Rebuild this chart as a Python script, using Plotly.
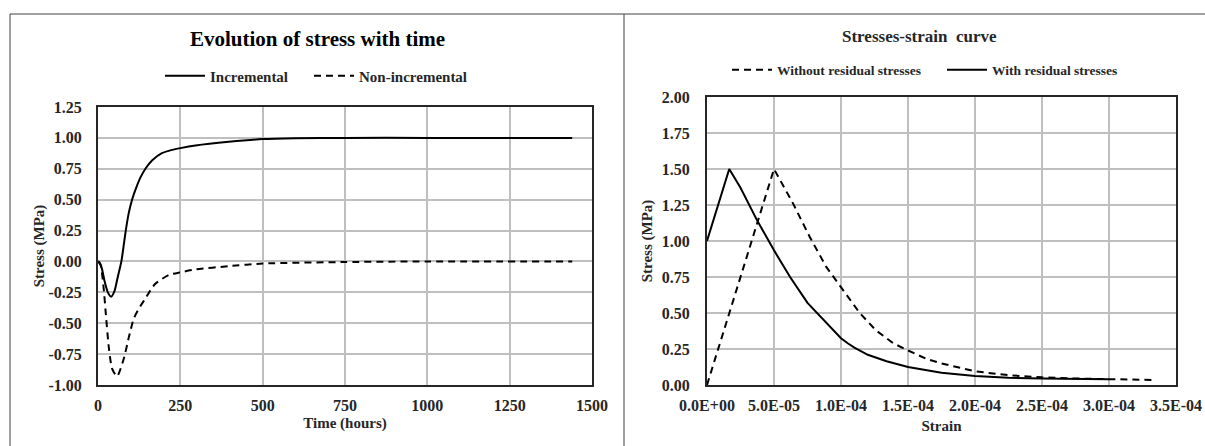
import plotly.graph_objects as go

W, H = 1205, 446

# ---------------- data ----------------
time_inc = [0, 5, 12, 20, 30, 40, 50, 58, 65, 71, 77, 83, 93, 103, 113, 129, 144, 164, 194, 225, 250, 296, 397, 500, 600, 750, 1000, 1250, 1440]
stress_inc = [0, -0.01, -0.06, -0.16, -0.25, -0.285, -0.24, -0.15, -0.07, 0.0, 0.11, 0.226, 0.387, 0.495, 0.575, 0.68, 0.75, 0.817, 0.876, 0.903, 0.917, 0.938, 0.968, 0.99, 0.997, 1.0, 1.0, 1.0, 1.0]

time_non = [0, 8, 18, 23, 33, 43, 58, 78, 94, 109, 129, 144, 160, 174, 215, 250, 296, 397, 500, 750, 1000, 1440]
stress_non = [0, -0.03, -0.24, -0.40, -0.70, -0.87, -0.93, -0.79, -0.61, -0.46, -0.36, -0.30, -0.23, -0.18, -0.11, -0.088, -0.065, -0.038, -0.017, -0.005, 0.0, 0.0]

strain_without = [0, 5.0e-5, 6.44e-5, 7.67e-5, 8.9e-5, 1.0e-4, 1.14e-4, 1.26e-4, 1.39e-4, 1.5e-4, 1.64e-4, 1.75e-4, 1.88e-4, 2.0e-4, 2.25e-4, 2.5e-4, 2.75e-4, 3.0e-4, 3.33e-4]
stress_without = [0, 1.50, 1.257, 1.028, 0.82, 0.68, 0.50, 0.38, 0.29, 0.24, 0.18, 0.15, 0.12, 0.095, 0.068, 0.053, 0.045, 0.04, 0.035]

strain_with = [0, 1.66e-5, 2.5e-5, 3.7e-5, 5.0e-5, 6.2e-5, 7.5e-5, 8.9e-5, 9.5e-5, 1.0e-4, 1.05e-4, 1.1e-4, 1.2e-4, 1.34e-4, 1.5e-4, 1.75e-4, 2.0e-4, 2.25e-4, 2.5e-4, 3.0e-4]
stress_with = [1.0, 1.50, 1.37, 1.15, 0.935, 0.75, 0.57, 0.43, 0.37, 0.325, 0.29, 0.26, 0.21, 0.165, 0.125, 0.085, 0.062, 0.05, 0.045, 0.04]

left_yticks = [-1.0, -0.75, -0.5, -0.25, 0.0, 0.25, 0.5, 0.75, 1.0, 1.25]
left_yticktext = ["-1.00", "-0.75", "-0.50", "-0.25", "0.00", "0.25", "0.50", "0.75", "1.00", "1.25"]
left_xticks = [0, 250, 500, 750, 1000, 1250, 1500]
right_yticks = [0, 0.25, 0.5, 0.75, 1.0, 1.25, 1.5, 1.75, 2.0]
right_xticks = [0, 5e-5, 1e-4, 1.5e-4, 2e-4, 2.5e-4, 3e-4, 3.5e-4]
right_xticktext = ["0.0E+00", "5.0E-05", "1.0E-04", "1.5E-04", "2.0E-04", "2.5E-04", "3.0E-04", "3.5E-04"]

# ---------------- figure ----------------
FONT = "Liberation Serif"
TXT = "#262626"
px = lambda x: x / W          # window pixel -> paper fraction
py = lambda y: (H - y) / H

fig = go.Figure()
fig.add_trace(go.Scatter(x=time_inc, y=stress_inc, mode="lines", name="Incremental",
                         line=dict(color="black", width=2, shape="spline", smoothing=0.6),
                         xaxis="x", yaxis="y", legend="legend"))
fig.add_trace(go.Scatter(x=time_non, y=stress_non, mode="lines", name="Non-incremental",
                         line=dict(color="black", width=2, dash="7px,5px", shape="spline", smoothing=0.6),
                         xaxis="x", yaxis="y", legend="legend3"))
fig.add_trace(go.Scatter(x=strain_without, y=stress_without, mode="lines", name="Without residual stresses",
                         line=dict(color="black", width=2, dash="7px,5px"),
                         xaxis="x2", yaxis="y2", legend="legend2"))
fig.add_trace(go.Scatter(x=strain_with, y=stress_with, mode="lines", name="With residual stresses",
                         line=dict(color="black", width=2),
                         xaxis="x2", yaxis="y2", legend="legend2"))

axis_common = dict(showgrid=True, gridcolor="#bfbfbf", gridwidth=1.5, zeroline=False,
                   showline=True, linecolor="#262626", linewidth=2, mirror=True, ticks="",
                   automargin=False,
                   tickfont=dict(family=FONT, size=16, color=TXT, weight="bold"))
title_font = dict(family=FONT, size=15, color=TXT, weight="bold")
left_legend_font = dict(family=FONT, size=15, color=TXT, weight="bold")

fig.update_layout(
    width=W, height=H,
    margin=dict(l=0, r=0, t=0, b=0, autoexpand=False),
    paper_bgcolor="white", plot_bgcolor="white",
    showlegend=True,
    xaxis=dict(domain=[px(98), px(592)], anchor="y", range=[0, 1500], tickvals=left_xticks,
               title=dict(text="Time (hours)", font=title_font, standoff=4),
               ticklabelstandoff=5, **axis_common),
    yaxis=dict(domain=[py(385), py(107)], anchor="x", range=[-1.0, 1.25], tickvals=left_yticks,
               ticktext=left_yticktext,
               title=dict(text="Stress (MPa)", font=title_font, standoff=0),
               ticklabelstandoff=11, **axis_common),
    xaxis2=dict(domain=[px(707), px(1176)], anchor="y2", range=[0, 3.5e-4], tickvals=right_xticks,
                ticktext=right_xticktext,
                title=dict(text="Strain", font=title_font, standoff=7),
                ticklabelstandoff=5, **axis_common),
    yaxis2=dict(domain=[py(385), py(97)], anchor="x2", range=[0, 2.0], tickvals=right_yticks,
                tickformat=".2f",
                title=dict(text="Stress (MPa)", font=title_font, standoff=6),
                ticklabelstandoff=12, **axis_common),
    legend=dict(orientation="h", x=px(160), y=py(76), xanchor="left", yanchor="middle",
                font=left_legend_font, bgcolor="rgba(0,0,0,0)", itemwidth=40),
    legend3=dict(orientation="h", x=px(309), y=py(76), xanchor="left", yanchor="middle",
                 font=left_legend_font, bgcolor="rgba(0,0,0,0)", itemwidth=40),
    legend2=dict(orientation="h", x=px(942), y=py(70), xanchor="center", yanchor="middle",
                 font=dict(family=FONT, size=13.5, color=TXT, weight="bold"),
                 bgcolor="rgba(0,0,0,0)", itemwidth=40, entrywidth=160, entrywidthmode="pixels"),
    annotations=[
        dict(text="Evolution of stress with time", x=px(317), y=py(39), xref="paper", yref="paper",
             showarrow=False, xanchor="center", yanchor="middle",
             font=dict(family=FONT, size=21, color="black", weight="bold")),
        dict(text="Stresses-strain  curve", x=px(920), y=py(36), xref="paper", yref="paper",
             showarrow=False, xanchor="center", yanchor="middle",
             font=dict(family=FONT, size=17, color=TXT, weight="bold")),
    ],
    shapes=[
        dict(type="line", xref="paper", yref="paper", x0=px(10), x1=1, y0=py(14), y1=py(14),
             line=dict(color="#404040", width=1)),
        dict(type="line", xref="paper", yref="paper", x0=px(10), x1=px(10), y0=py(14), y1=0,
             line=dict(color="#404040", width=1)),
        dict(type="line", xref="paper", yref="paper", x0=px(624), x1=px(624), y0=py(14), y1=0,
             line=dict(color="#404040", width=1)),
    ],
)

# remove the default 8px page margin so the 1205x446 figure fills the window exactly
fig.write_html("out.html",
               config={"displayModeBar": False},
               post_script="document.body.style.margin='0';document.body.style.overflow='hidden';")
